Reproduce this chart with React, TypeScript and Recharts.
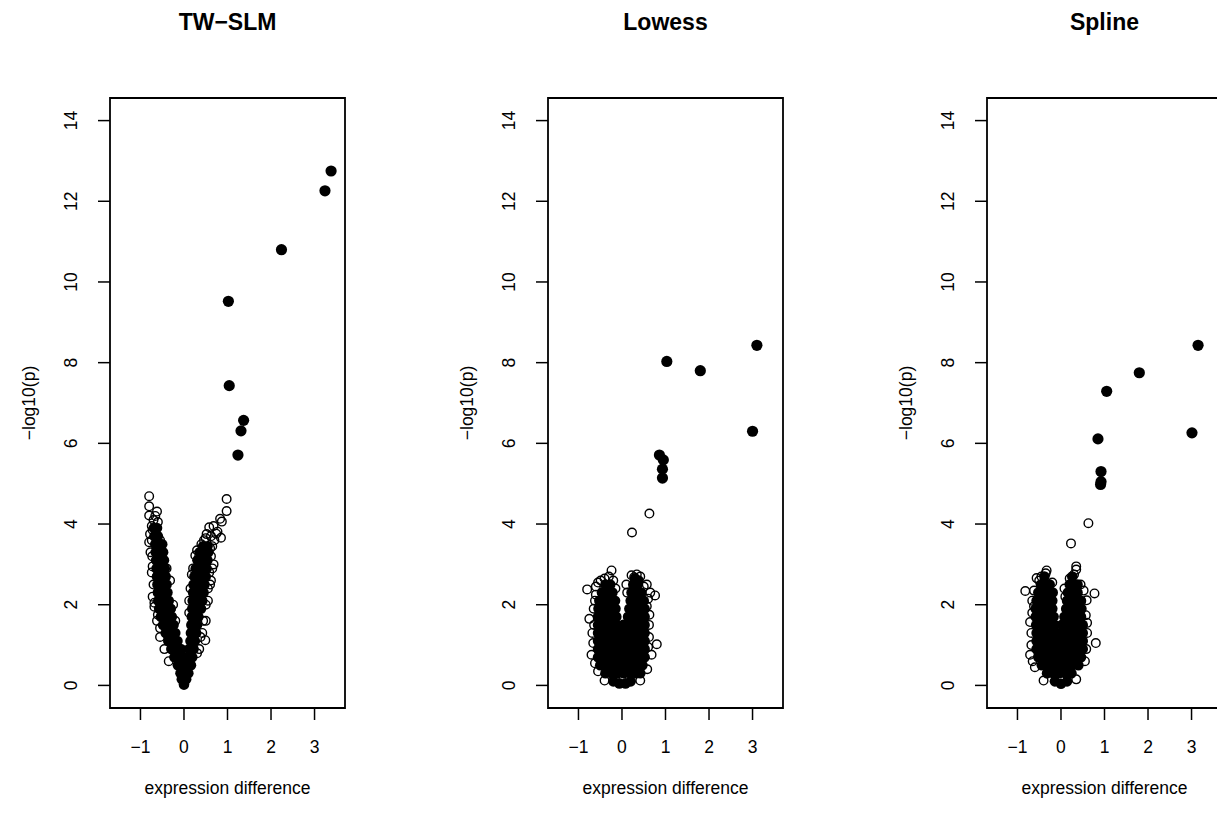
import React from 'react';
import { ScatterChart, Scatter, XAxis, YAxis, ReferenceArea } from 'recharts';

type Pt = [number, number];

const xTicks = [-1, 0, 1, 2, 3];
const yTicks = [0, 2, 4, 6, 8, 10, 12, 14];
const xDomain: [number, number] = [-1.7, 3.7];
const yDomain: [number, number] = [-0.56, 14.56];

const titles = ['TW\u2212SLM', 'Lowess', 'Spline'];
const xLabel = 'expression difference';
const yLabel = '\u2212log10(p)';

// dense part of each cloud (so many overlapping circles it reads as solid black)
const twSlmCloud: Pt[] = [
  [0.0, 0.02], [-0.05, 0.15], [0.05, 0.15],
  [-0.08, 0.3], [0.04, 0.3], [0.1, 0.3],
  [-0.14, 0.5], [-0.03, 0.5], [0.08, 0.5], [0.16, 0.5],
  [-0.22, 0.7], [-0.11, 0.7], [0.0, 0.7], [0.1, 0.7], [0.19, 0.7],
  [-0.29, 0.9], [-0.18, 0.9], [-0.07, 0.9], [0.12, 0.9], [0.22, 0.9],
  [-0.36, 1.1], [-0.25, 1.1], [-0.15, 1.1], [0.15, 1.1], [0.25, 1.1],
  [-0.42, 1.3], [-0.31, 1.3], [-0.2, 1.3], [0.16, 1.3], [0.28, 1.3],
  [-0.48, 1.5], [-0.37, 1.5], [-0.24, 1.5], [0.17, 1.5], [0.3, 1.5],
  [-0.53, 1.7], [-0.41, 1.7], [-0.28, 1.7], [0.18, 1.7], [0.33, 1.7],
  [-0.57, 1.9], [-0.45, 1.9], [-0.31, 1.9], [0.19, 1.9], [0.3, 1.9], [0.39, 1.9],
  [-0.59, 2.1], [-0.48, 2.1], [-0.35, 2.1], [0.2, 2.1], [0.32, 2.1], [0.42, 2.1],
  [-0.6, 2.3], [-0.5, 2.3], [-0.38, 2.3], [0.21, 2.3], [0.34, 2.3], [0.45, 2.3],
  [-0.61, 2.5], [-0.51, 2.5], [-0.4, 2.5], [0.22, 2.5], [0.36, 2.5], [0.47, 2.5],
  [-0.62, 2.7], [-0.52, 2.7], [-0.42, 2.7], [0.24, 2.7], [0.38, 2.7], [0.5, 2.7],
  [-0.63, 2.9], [-0.53, 2.9], [-0.44, 2.9], [0.27, 2.9], [0.4, 2.9], [0.52, 2.9],
  [-0.64, 3.1], [-0.55, 3.1], [-0.46, 3.1], [0.31, 3.1], [0.43, 3.1], [0.54, 3.1],
  [-0.65, 3.3], [-0.56, 3.3], [-0.48, 3.3], [0.36, 3.3], [0.47, 3.3], [0.56, 3.3],
  [-0.66, 3.5], [-0.58, 3.5], [-0.5, 3.5], [0.44, 3.45], [0.54, 3.45],
  [-0.68, 3.7], [-0.6, 3.7],
  [-0.69, 3.9], [-0.62, 3.9],
];

const twSlmEdge: Pt[] = [
  [-0.8, 4.69], [-0.8, 4.44], [-0.8, 4.21], [-0.62, 4.31], [-0.66, 4.2], [-0.7, 4.1],
  [-0.6, 4.05], [-0.74, 3.95], [-0.78, 3.75], [-0.72, 3.85], [-0.55, 3.6], [-0.8, 3.55],
  [-0.77, 3.3], [-0.74, 2.8], [-0.72, 2.2], [-0.55, 1.42], [-0.6, 1.75], [-0.68, 1.95],
  [-0.4, 2.9], [-0.3, 1.9], [-0.74, 3.6], [-0.73, 3.2], [-0.72, 2.95], [-0.7, 2.5],
  [-0.68, 2.05], [-0.62, 1.6], [-0.55, 1.2], [-0.45, 0.9], [-0.35, 0.6], [-0.32, 2.6],
  [-0.25, 2.0], [-0.2, 1.6],
  [0.98, 4.62], [0.98, 4.32], [0.87, 4.06], [0.83, 4.13], [0.85, 3.66], [0.77, 3.81],
  [0.74, 3.76], [0.7, 3.6], [0.65, 3.45], [0.6, 3.4], [0.26, 3.22], [0.35, 3.2],
  [0.45, 3.1], [0.21, 2.9], [0.18, 2.75], [0.68, 3.0], [0.65, 2.9], [0.6, 2.5],
  [0.49, 1.12], [0.5, 1.6], [0.55, 2.1], [0.62, 2.6], [0.3, 3.35], [0.4, 3.5],
  [0.5, 3.65], [0.12, 2.1], [0.42, 1.3], [0.35, 0.9], [0.52, 3.75], [0.62, 3.7],
  [0.58, 3.92], [0.68, 3.95], [0.46, 3.6], [0.62, 3.2], [0.58, 2.8], [0.55, 2.4],
  [0.5, 2.0], [0.44, 1.6], [0.38, 1.2], [0.3, 0.8], [0.15, 2.4], [0.12, 1.8],
];

const twSlmHits: Pt[] = [
  [3.38, 12.75], [3.24, 12.26], [2.24, 10.8], [1.02, 9.52],
  [1.04, 7.43], [1.37, 6.57], [1.31, 6.31], [1.24, 5.71],
];

const lowessCloud: Pt[] = [
  [-0.2, 0.1], [-0.06, 0.05], [0.08, 0.05], [0.2, 0.1],
  [-0.38, 0.3], [-0.24, 0.3], [-0.1, 0.3], [0.04, 0.3], [0.18, 0.3], [0.32, 0.3], [0.42, 0.3],
  [-0.5, 0.5], [-0.36, 0.5], [-0.22, 0.5], [-0.08, 0.5], [0.06, 0.5], [0.2, 0.5], [0.34, 0.5], [0.47, 0.5],
  [-0.55, 0.7], [-0.41, 0.7], [-0.27, 0.7], [-0.13, 0.7], [0.01, 0.7], [0.15, 0.7], [0.29, 0.7], [0.43, 0.7], [0.52, 0.7],
  [-0.55, 0.9], [-0.41, 0.9], [-0.27, 0.9], [-0.13, 0.9], [0.01, 0.9], [0.15, 0.9], [0.29, 0.9], [0.43, 0.9], [0.52, 0.9],
  [-0.55, 1.1], [-0.41, 1.1], [-0.27, 1.1], [-0.13, 1.1], [0.01, 1.1], [0.15, 1.1], [0.29, 1.1], [0.43, 1.1], [0.52, 1.1],
  [-0.55, 1.3], [-0.41, 1.3], [-0.27, 1.3], [-0.13, 1.3], [0.01, 1.3], [0.15, 1.3], [0.29, 1.3], [0.43, 1.3], [0.52, 1.3],
  [-0.55, 1.5], [-0.41, 1.5], [-0.27, 1.5], [-0.13, 1.5], [0.03, 1.5], [0.15, 1.5], [0.29, 1.5], [0.43, 1.5], [0.52, 1.5],
  [-0.55, 1.7], [-0.41, 1.7], [-0.27, 1.7], [-0.13, 1.7], [0.14, 1.7], [0.27, 1.7], [0.4, 1.7], [0.52, 1.7],
  [-0.54, 1.9], [-0.4, 1.9], [-0.27, 1.9], [-0.15, 1.9], [0.17, 1.9], [0.3, 1.9], [0.42, 1.9], [0.52, 1.9],
  [-0.52, 2.1], [-0.39, 2.1], [-0.26, 2.1], [-0.16, 2.1], [0.2, 2.1], [0.32, 2.1], [0.44, 2.1], [0.5, 2.1],
  [-0.46, 2.3], [-0.34, 2.3], [-0.22, 2.3], [0.22, 2.3], [0.33, 2.3], [0.44, 2.3],
  [-0.38, 2.5], [-0.27, 2.5], [0.26, 2.5], [0.36, 2.5],
  [0.3, 2.65], [0.38, 2.6],
];

const lowessEdge: Pt[] = [
  [-0.24, 2.85], [-0.8, 2.38], [-0.49, 2.6], [-0.6, 2.45], [-0.4, 2.65], [-0.3, 2.7],
  [-0.75, 1.65], [-0.7, 0.76], [-0.65, 1.9], [-0.68, 1.3], [-0.62, 2.1], [-0.15, 2.4],
  [-0.55, 0.35], [-0.4, 0.12], [-0.66, 1.05], [-0.64, 1.5], [-0.6, 2.25], [-0.55, 2.55],
  [-0.2, 2.6], [-0.62, 0.55],
  [0.34, 2.75], [0.22, 2.73], [0.42, 2.7], [0.28, 2.68], [0.1, 2.5], [0.76, 2.23],
  [0.65, 2.3], [0.57, 2.5], [0.8, 1.02], [0.68, 0.76], [0.57, 1.96], [0.62, 1.5],
  [0.58, 0.4], [0.42, 0.12], [0.6, 2.15], [0.62, 1.2], [0.63, 1.75], [0.5, 2.45],
  [0.12, 2.3], [0.6, 0.95],
  [0.63, 4.26], [0.23, 3.79],
];

const lowessHits: Pt[] = [
  [1.03, 8.03], [1.8, 7.8], [3.1, 8.43], [3.0, 6.3],
  [0.86, 5.71], [0.95, 5.59], [0.93, 5.36], [0.93, 5.14],
];

const splineCloud: Pt[] = [
  [-0.14, 0.1], [0.0, 0.04], [0.14, 0.1],
  [-0.32, 0.3], [-0.18, 0.3], [-0.04, 0.3], [0.1, 0.3], [0.24, 0.3],
  [-0.44, 0.5], [-0.3, 0.5], [-0.16, 0.5], [-0.02, 0.5], [0.12, 0.5], [0.26, 0.5], [0.4, 0.5],
  [-0.52, 0.7], [-0.38, 0.7], [-0.24, 0.7], [-0.1, 0.7], [0.04, 0.7], [0.18, 0.7], [0.32, 0.7], [0.46, 0.7],
  [-0.56, 0.9], [-0.42, 0.9], [-0.28, 0.9], [-0.14, 0.9], [0.0, 0.9], [0.14, 0.9], [0.28, 0.9], [0.42, 0.9], [0.5, 0.9],
  [-0.56, 1.1], [-0.42, 1.1], [-0.28, 1.1], [-0.14, 1.1], [0.0, 1.1], [0.14, 1.1], [0.28, 1.1], [0.42, 1.1], [0.5, 1.1],
  [-0.56, 1.3], [-0.42, 1.3], [-0.28, 1.3], [-0.14, 1.3], [0.0, 1.3], [0.14, 1.3], [0.28, 1.3], [0.42, 1.3], [0.5, 1.3],
  [-0.57, 1.5], [-0.43, 1.5], [-0.29, 1.5], [-0.15, 1.5], [0.02, 1.5], [0.15, 1.5], [0.29, 1.5], [0.43, 1.5], [0.5, 1.5],
  [-0.58, 1.7], [-0.44, 1.7], [-0.3, 1.7], [-0.17, 1.7], [0.08, 1.7], [0.2, 1.7], [0.33, 1.7], [0.46, 1.7],
  [-0.58, 1.9], [-0.45, 1.9], [-0.32, 1.9], [-0.2, 1.9], [0.12, 1.9], [0.24, 1.9], [0.36, 1.9], [0.47, 1.9],
  [-0.56, 2.1], [-0.44, 2.1], [-0.32, 2.1], [-0.2, 2.1], [0.14, 2.1], [0.26, 2.1], [0.38, 2.1], [0.46, 2.1],
  [-0.52, 2.3], [-0.41, 2.3], [-0.3, 2.3], [-0.19, 2.3], [0.16, 2.3], [0.28, 2.3], [0.38, 2.3],
  [-0.46, 2.5], [-0.36, 2.5], [-0.26, 2.5], [0.2, 2.5], [0.3, 2.5], [0.38, 2.5],
  [-0.38, 2.7], [0.26, 2.7],
];

const splineEdge: Pt[] = [
  [-0.82, 2.34], [-0.56, 2.66], [-0.33, 2.85], [-0.35, 2.78], [-0.45, 2.7], [-0.5, 2.6],
  [-0.71, 0.76], [-0.71, 1.57], [-0.62, 1.96], [-0.66, 2.1], [-0.68, 1.3], [-0.6, 0.45],
  [-0.4, 0.12], [-0.68, 1.0], [-0.66, 1.8], [-0.62, 2.35], [-0.2, 2.55], [-0.65, 0.6],
  [0.35, 2.95], [0.35, 2.87], [0.3, 2.75], [0.2, 2.65], [0.08, 2.4], [0.77, 2.28],
  [0.59, 2.11], [0.57, 1.74], [0.8, 1.05], [0.6, 1.3], [0.55, 0.6], [0.35, 0.15],
  [0.45, 2.5], [0.6, 1.55], [0.58, 0.9], [0.52, 2.35], [0.1, 2.2],
  [0.63, 4.02], [0.23, 3.52],
];

const splineHits: Pt[] = [
  [3.15, 8.43], [1.8, 7.75], [1.05, 7.29], [0.85, 6.11],
  [0.92, 5.3], [0.92, 5.05], [0.91, 4.98], [3.01, 6.26],
];

const W = 438;
const H = 813;
const STEP = 438.33;
const FONT = '"Liberation Sans", Arial, Helvetica, sans-serif';

const toPts = (a: Pt[]) => a.map(([x, y]) => ({ x, y }));
const fmt = (v: number) => String(v).replace('-', '\u2212');

const solidDot = (r: number) => (p: any) => (
  <circle cx={p.cx} cy={p.cy} r={r} fill="#000" stroke="none" />
);
const openDot = (p: any) => (
  <circle cx={p.cx} cy={p.cy} r={4.3} fill="none" stroke="#000" strokeWidth={1.4} />
);

const XTick = ({ x, payload }: any) => (
  <text x={x} y={753} textAnchor="middle" fontSize={17.5} fontFamily={FONT} fill="#000">
    {fmt(payload.value)}
  </text>
);

const YTick = ({ y, payload }: any) => (
  <text
    x={77}
    y={y}
    transform={`rotate(-90 77 ${y})`}
    textAnchor="middle"
    fontSize={17.5}
    fontFamily={FONT}
    fill="#000"
  >
    {fmt(payload.value)}
  </text>
);

interface PanelProps {
  title: string;
  cloud: Pt[];
  edge: Pt[];
  hits: Pt[];
  left: number;
}

const Panel = ({ title, cloud, edge, hits, left }: PanelProps) => (
  <div style={{ position: 'absolute', left, top: 0, width: W, height: H }}>
    <ScatterChart width={W} height={H} margin={{ top: 98, right: 93, bottom: 0, left: 0 }}>
      <XAxis
        type="number"
        dataKey="x"
        domain={xDomain}
        ticks={xTicks}
        interval={0}
        allowDataOverflow
        axisLine={false}
        tickSize={12}
        tickLine={{ stroke: '#000', strokeWidth: 1.5 }}
        tick={XTick}
        height={105}
      />
      <YAxis
        type="number"
        dataKey="y"
        domain={yDomain}
        ticks={yTicks}
        interval={0}
        allowDataOverflow
        axisLine={false}
        tickSize={12}
        tickLine={{ stroke: '#000', strokeWidth: 1.5 }}
        tick={YTick}
        width={110}
      />
      <Scatter data={toPts(cloud)} shape={solidDot(5.3)} isAnimationActive={false} />
      <Scatter data={toPts(edge)} shape={openDot} isAnimationActive={false} />
      <Scatter data={toPts(hits)} shape={solidDot(5.6)} isAnimationActive={false} />
      <ReferenceArea
        x1={xDomain[0]}
        x2={xDomain[1]}
        y1={yDomain[0]}
        y2={yDomain[1]}
        fill="none"
        fillOpacity={0}
        stroke="#000"
        strokeWidth={1.8}
        ifOverflow="visible"
      />
    </ScatterChart>
    <svg
      width={W}
      height={H}
      style={{ position: 'absolute', left: 0, top: 0, pointerEvents: 'none' }}
      fontFamily={FONT}
    >
      <text x={227.5} y={30} textAnchor="middle" fontWeight="bold" fontSize={23} fill="#000">
        {title}
      </text>
      <text x={227.5} y={794} textAnchor="middle" fontSize={17.5} fill="#000">
        {xLabel}
      </text>
      <text x={35} y={403} transform="rotate(-90 35 403)" textAnchor="middle" fontSize={17.5} fill="#000">
        {yLabel}
      </text>
    </svg>
  </div>
);

export default function App() {
  return (
    <div
      style={{
        position: 'absolute',
        left: 0,
        top: 0,
        width: 1217,
        height: 813,
        overflow: 'hidden',
        background: '#fff',
      }}
    >
      <Panel title={titles[0]} cloud={twSlmCloud} edge={twSlmEdge} hits={twSlmHits} left={0} />
      <Panel title={titles[1]} cloud={lowessCloud} edge={lowessEdge} hits={lowessHits} left={STEP} />
      <Panel title={titles[2]} cloud={splineCloud} edge={splineEdge} hits={splineHits} left={STEP * 2} />
    </div>
  );
}
